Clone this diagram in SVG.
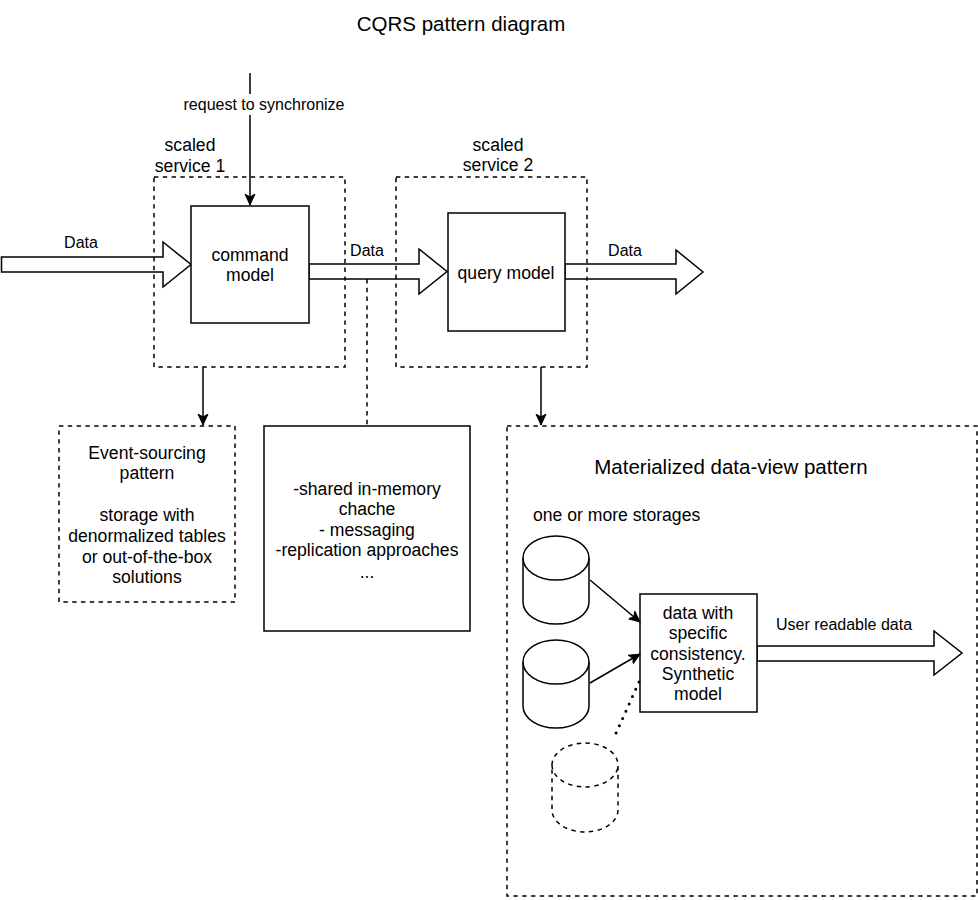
<svg xmlns="http://www.w3.org/2000/svg" width="978" height="900" viewBox="0 0 978 900">
<style>
text{font-family:"Liberation Sans",Arial,sans-serif;fill:#000;text-anchor:middle}
.t{font-size:17.6px}
.s{font-size:16px}
.big{font-size:20.5px}
.box{fill:#fff;stroke:#000;stroke-width:1.5}
.dash{fill:none;stroke:#000;stroke-width:1.5;stroke-dasharray:4.4 4.4}
.flex{fill:#fff;stroke:#000;stroke-width:1.5;stroke-linejoin:miter}
.ln{fill:none;stroke:#000;stroke-width:1.5}
</style>
<defs>
<marker id="arr" markerUnits="userSpaceOnUse" markerWidth="12" markerHeight="12" refX="11" refY="6" orient="auto">
<path d="M0,1 L11,6 L0,11 L3,6 Z" fill="#000" stroke="#000" stroke-width="1"/>
</marker>
</defs>
<rect width="978" height="900" fill="#fff"/>
<text class="big" x="461" y="31">CQRS pattern diagram</text>

<g id="flex-arrows">
<polygon class="flex" points="1.5,257 163,257 163,242 191,264.5 163,287 163,272 1.5,272"/>
<polygon class="flex" points="309,264 419,264 419,249 447,271.5 419,294 419,279 309,279"/>
<polygon class="flex" points="565,264 676,264 676,250 703,272 676,294 676,279 565,279"/>
<polygon class="flex" points="757,646 934,646 934,631 962,653 934,675 934,661 757,661"/>
<text class="s" x="81" y="248">Data</text>
<text class="s" x="367" y="256">Data</text>
<text class="s" x="625" y="256">Data</text>
<text class="s" x="844" y="630">User readable data</text>
</g>

<g id="service1">
<rect class="dash" x="154" y="177" width="191" height="190"/>
<text class="t" x="190" y="151">scaled</text>
<text class="t" x="190" y="172">service 1</text>
</g>
<g id="service2">
<rect class="dash" x="396" y="177" width="191" height="190"/>
<text class="t" x="498" y="151">scaled</text>
<text class="t" x="498" y="171">service 2</text>
</g>

<g id="command-model">
<rect class="box" x="191" y="206" width="118" height="117"/>
<text class="t" x="250" y="261">command</text>
<text class="t" x="250" y="281">model</text>
</g>
<g id="query-model">
<rect class="box" x="448" y="213" width="117" height="118"/>
<text class="t" x="506" y="279">query model</text>
</g>

<g id="event-sourcing">
<rect class="dash" x="59" y="426" width="176" height="176"/>
<text class="t" x="147" y="459">Event-sourcing</text>
<text class="t" x="147" y="479">pattern</text>
<text class="t" x="147" y="521">storage with</text>
<text class="t" x="147" y="542">denormalized tables</text>
<text class="t" x="147" y="563">or out-of-the-box</text>
<text class="t" x="147" y="583">solutions</text>
</g>

<g id="sync-options">
<rect class="box" x="264" y="426" width="206" height="205"/>
<text class="t" x="367" y="495">-shared in-memory</text>
<text class="t" x="367" y="515">chache</text>
<text class="t" x="367" y="536">- messaging</text>
<text class="t" x="367" y="556">-replication approaches</text>
<text class="t" x="367" y="578">...</text>
</g>

<g id="materialized">
<rect class="dash" x="507" y="426" width="470" height="470"/>
<text class="big" x="731" y="474">Materialized data-view pattern</text>
<text class="t" x="533" y="521" style="text-anchor:start">one or more storages</text>
</g>

<g id="storage1">
<path class="box" d="M523,558 A33,22 0 0 1 589,558 L589,602 A33,22 0 0 1 523,602 Z"/>
<path class="ln" d="M523,558 A33,22 0 0 0 589,558"/>
</g>
<g id="storage2">
<path class="box" d="M523,662 A33,22 0 0 1 589,662 L589,706 A33,22 0 0 1 523,706 Z"/>
<path class="ln" d="M523,662 A33,22 0 0 0 589,662"/>
</g>
<g id="storage3">
<path class="dash" d="M552,765 A33,22 0 0 1 618,765 L618,810 A33,22 0 0 1 552,810 Z"/>
<path class="dash" d="M552,765 A33,22 0 0 0 618,765"/>
</g>

<g id="synthetic-model">
<rect class="box" x="640" y="594" width="117" height="118"/>
<text class="t" x="698" y="619">data with</text>
<text class="t" x="698" y="639">specific</text>
<text class="t" x="698" y="660">consistency.</text>
<text class="t" x="698" y="680">Synthetic</text>
<text class="t" x="698" y="700">model</text>
</g>

<g id="connectors">
<line class="ln" x1="250" y1="73" x2="250" y2="205" marker-end="url(#arr)"/>
<rect x="182" y="94" width="164" height="21" fill="#fff"/>
<text class="s" x="264" y="110">request to synchronize</text>
<line class="ln" x1="203" y1="367" x2="203" y2="425" marker-end="url(#arr)"/>
<line class="ln" x1="541" y1="367" x2="541" y2="425" marker-end="url(#arr)"/>
<line class="dash" x1="367" y1="279" x2="367" y2="426"/>
<line class="ln" x1="590" y1="580" x2="640" y2="622" marker-end="url(#arr)"/>
<line class="ln" x1="590" y1="683" x2="640" y2="654" marker-end="url(#arr)"/>
<line x1="639" y1="682" x2="613" y2="740" stroke="#000" stroke-width="3" stroke-linecap="round" stroke-dasharray="0 8"/>
</g>
</svg>
